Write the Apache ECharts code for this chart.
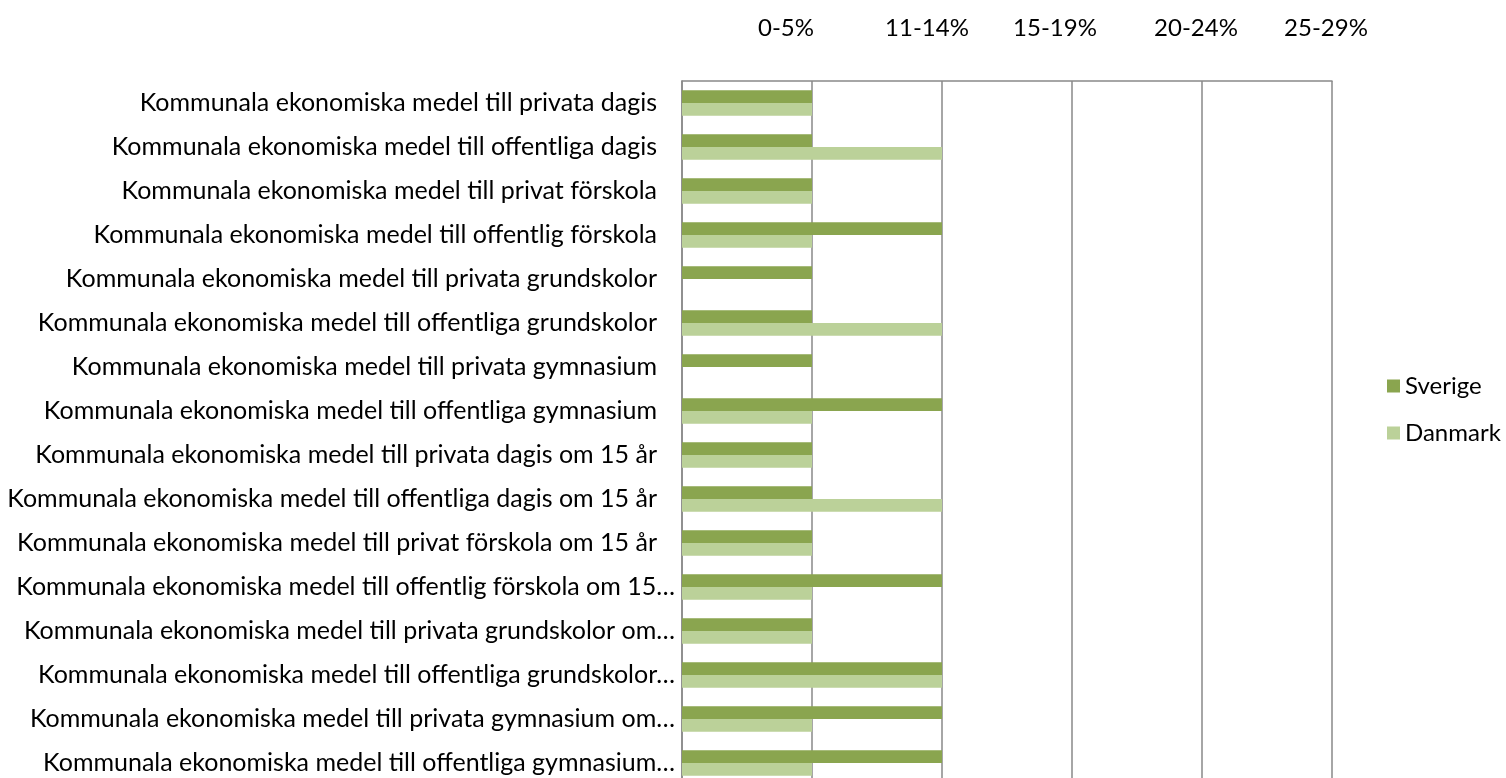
<!DOCTYPE html>
<html>
<head>
<meta charset="utf-8">
<style>
  html, body { margin: 0; padding: 0; background: #fff; }
  #chart { width: 1506px; height: 778px; }
</style>
<script src="https://cdn.jsdelivr.net/npm/echarts@6/dist/echarts.min.js"></script>
</head>
<body>
<div id="chart"></div>
<script>
  var categories = [
    'Kommunala ekonomiska medel till privata dagis',
    'Kommunala ekonomiska medel till offentliga dagis',
    'Kommunala ekonomiska medel till privat förskola',
    'Kommunala ekonomiska medel till offentlig förskola',
    'Kommunala ekonomiska medel till privata grundskolor',
    'Kommunala ekonomiska medel till offentliga grundskolor',
    'Kommunala ekonomiska medel till privata gymnasium',
    'Kommunala ekonomiska medel till offentliga gymnasium',
    'Kommunala ekonomiska medel till privata dagis om 15 år',
    'Kommunala ekonomiska medel till offentliga dagis om 15 år',
    'Kommunala ekonomiska medel till privat förskola om 15 år',
    'Kommunala ekonomiska medel till offentlig förskola om 15…',
    'Kommunala ekonomiska medel till privata grundskolor om…',
    'Kommunala ekonomiska medel till offentliga grundskolor…',
    'Kommunala ekonomiska medel till privata gymnasium om…',
    'Kommunala ekonomiska medel till offentliga gymnasium…'
  ];
  var sverige = [1, 1, 1, 2, 1, 1, 1, 2, 1, 1, 1, 2, 1, 2, 2, 2];
  var danmark = [1, 2, 1, 1, 0, 2, 0, 1, 1, 2, 1, 1, 1, 2, 1, 1];
  // tick labels for axis values 1..5
  var tickLabels = ['', '0-5%', '11-14%', '15-19%', '20-24%', '25-29%'];

  var font = 'Lato';
  var fontSize = 24;
  var gridColor = '#898989';
  // excel draws the top labels a bit left of their gridlines
  var shiftLeft = [0, 26, 15, 17, 6, 6];
  var rich = {};
  for (var i = 0; i < tickLabels.length; i++) {
    rich['t' + i] = {
      fontFamily: font,
      fontSize: fontSize,
      color: '#000',
      padding: [0, shiftLeft[i] * 2, 0, 0]
    };
  }

  var chart = echarts.init(document.getElementById('chart'));
  chart.setOption({
    backgroundColor: '#fff',
    animation: false,
    textStyle: { fontFamily: font },
    legend: {
      orient: 'vertical',
      left: 1382,
      top: 369,
      icon: 'rect',
      itemWidth: 13,
      itemHeight: 13,
      itemGap: 23,
      textStyle: { fontSize: fontSize, color: '#000', fontFamily: font },
      data: ['Sverige', 'Danmark']
    },
    grid: {
      left: 682,
      top: 81,
      width: 650,
      height: 704,
      containLabel: false,
      outerBoundsMode: 'none'
    },
    xAxis: {
      type: 'value',
      position: 'top',
      min: 0,
      max: 5,
      interval: 1,
      axisLine: { show: true, lineStyle: { color: gridColor, width: 1.5 } },
      axisTick: { show: false },
      splitLine: { show: true, lineStyle: { color: gridColor, width: 1.5 } },
      axisLabel: {
        margin: 41,
        formatter: function (v) {
          var k = Math.round(v);
          return tickLabels[k] ? '{t' + k + '|' + tickLabels[k] + '}' : '';
        },
        rich: rich
      }
    },
    yAxis: {
      type: 'category',
      inverse: true,
      data: categories,
      axisLine: { show: true, lineStyle: { color: gridColor, width: 1.5 } },
      axisTick: { show: false },
      axisLabel: {
        margin: 7,
        fontSize: 25,
        color: '#000',
        fontFamily: font,
        // cut-off names run a little closer to the axis, as in excel
        formatter: function (v) {
          return /…$/.test(v) ? '{e|' + v + '}' : '{n|' + v + '}';
        },
        rich: {
          n: { fontSize: 25, fontFamily: font, color: '#000', padding: [0, 18, 0, 0] },
          e: { fontSize: 25, fontFamily: font, color: '#000' }
        }
      }
    },
    series: [
      {
        name: 'Sverige',
        type: 'bar',
        data: sverige,
        barGap: '0%',
        barCategoryGap: '42.5%',
        itemStyle: { color: '#8AA54F' }
      },
      {
        name: 'Danmark',
        type: 'bar',
        data: danmark,
        barGap: '0%',
        barCategoryGap: '42.5%',
        itemStyle: { color: '#BBD199' }
      }
    ]
  });
</script>
</body>
</html>
